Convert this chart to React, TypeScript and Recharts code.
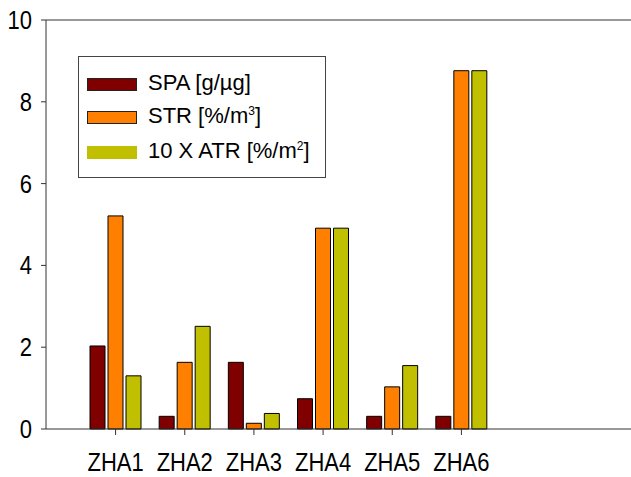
import React from 'react';
import { BarChart, Bar, XAxis, YAxis, ReferenceLine } from 'recharts';

const sites = ['ZHA1', 'ZHA2', 'ZHA3', 'ZHA4', 'ZHA5', 'ZHA6'];
const spa = [2.03, 0.31, 1.63, 0.74, 0.31, 0.31];
const str = [5.21, 1.63, 0.14, 4.91, 1.03, 8.76];
const atr = [1.3, 2.51, 0.38, 4.91, 1.55, 8.76];
const yTicks = [0, 2, 4, 6, 8, 10];

const data = sites.map((site, i) => ({ site, spa: spa[i], str: str[i], atr: atr[i] }));

const font = 'Liberation Sans, Arial, sans-serif';

const XTick = (props: any) => {
    const { x, y, payload } = props;
    return (
        <g transform={`translate(${x},${y + 34}) scale(1,1.15)`}>
            <text textAnchor="middle" fontSize={22} fontFamily={font} fill="#000">
                {payload.value}
            </text>
        </g>
    );
};

const YTick = (props: any) => {
    const { x, y, payload } = props;
    return (
        <g transform={`translate(${x - 7},${y + 9}) scale(1,1.15)`}>
            <text textAnchor="end" fontSize={22} fontFamily={font} fill="#000">
                {payload.value}
            </text>
        </g>
    );
};

const swatch = (color: string, border: boolean) => (
    <span
        style={{
            display: 'inline-block',
            width: 48,
            height: 11,
            background: color,
            border: border ? '1px solid #222' : '1px solid ' + color,
            marginRight: 11,
            verticalAlign: 'middle',
        }}
    />
);

const rowStyle: React.CSSProperties = { position: 'absolute', left: 8, whiteSpace: 'nowrap', lineHeight: '26px' };

const LegendBox = () => (
    <div
        style={{
            position: 'absolute',
            left: 78,
            top: 56,
            width: 246,
            height: 120,
            border: '1px solid #444',
            background: '#fff',
            fontFamily: font,
            fontSize: 22,
            color: '#000',
        }}
    >
        <div style={{ ...rowStyle, top: 13 }}>{swatch('#800000', true)}SPA [g/µg]</div>
        <div style={{ ...rowStyle, top: 46 }}>
            {swatch('#FF8000', true)}STR [%/m<sup style={{ fontSize: 12, lineHeight: 0 }}>3</sup>]
        </div>
        <div style={{ ...rowStyle, top: 81 }}>
            {swatch('#C0C000', false)}10 X ATR [%/m<sup style={{ fontSize: 12, lineHeight: 0 }}>2</sup>]
        </div>
    </div>
);

const App = () => {
    return (
        <div style={{ position: 'absolute', left: 0, top: 0, width: 631, height: 477, background: '#fff' }}>
            <BarChart
                width={631}
                height={477}
                data={data}
                margin={{ top: 20, right: 0, bottom: 0, left: 0 }}
                barSize={15}
                barGap={3}
            >
                <XAxis
                    dataKey="site"
                    height={48}
                    padding={{ left: 35, right: 135 }}
                    tickSize={6}
                    tick={<XTick />}
                    axisLine={{ stroke: '#333' }}
                    tickLine={{ stroke: '#333' }}
                />
                <YAxis
                    width={46}
                    domain={[0, 10]}
                    ticks={yTicks}
                    tickSize={5}
                    tick={<YTick />}
                    axisLine={{ stroke: '#333' }}
                    tickLine={{ stroke: '#333' }}
                />
                <ReferenceLine y={10} stroke="#333" />
                <Bar dataKey="spa" fill="#800000" stroke="#000" strokeWidth={1} isAnimationActive={false} />
                <Bar dataKey="str" fill="#FF8000" stroke="#000" strokeWidth={1} isAnimationActive={false} />
                <Bar dataKey="atr" fill="#C0C000" stroke="#000" strokeWidth={1} isAnimationActive={false} />
            </BarChart>
            <LegendBox />
        </div>
    );
};

export default App;
